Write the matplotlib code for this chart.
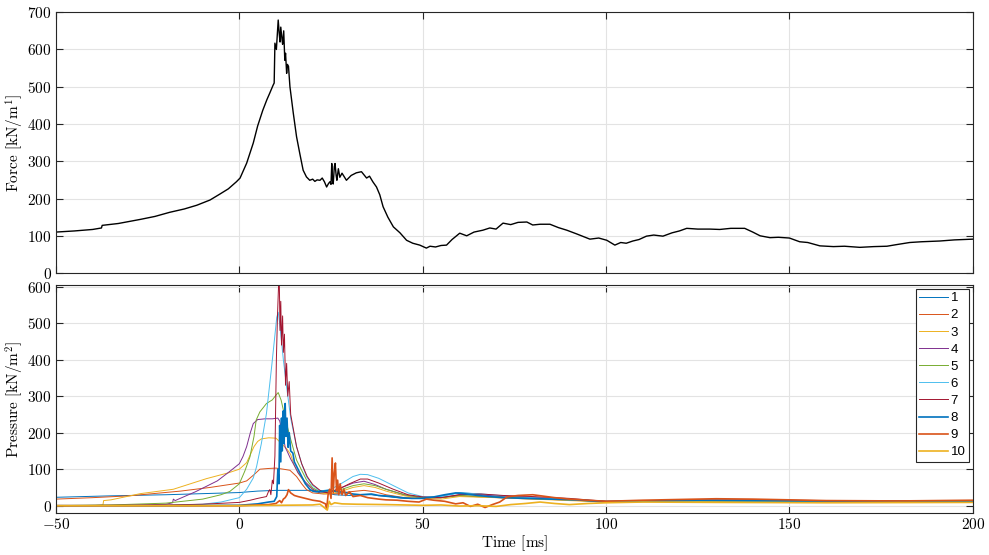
import matplotlib
matplotlib.use('Agg')
import matplotlib.pyplot as plt
import numpy as np

plt.rcParams['font.family'] = 'serif'
plt.rcParams['font.serif'] = ['cmr10']
plt.rcParams['mathtext.fontset'] = 'cm'
plt.rcParams['axes.unicode_minus'] = False
plt.rcParams['axes.formatter.use_mathtext'] = True

# total force on the structure, (time ms, kN/m)
force = np.array([
    (-50, 110), (-45, 113), (-40, 117), (-37.6, 121), (-37.4, 128), (-33, 133), (-27, 144),
    (-23, 152), (-19, 163), (-15, 172), (-11.6, 182), (-8, 196), (-5.3, 212), (-3, 226),
    (-0.8, 245), (0.2, 255), (2, 295), (3.8, 349), (5, 395), (6.4, 437), (7.5, 465),
    (8.3, 483), (9.2, 504), (9.5, 510), (9.7, 617), (10.1, 600), (10.6, 679), (10.9, 640),
    (11.1, 620), (11.3, 660), (11.6, 630), (11.8, 614), (12.1, 650), (12.4, 571), (12.6, 590),
    (12.9, 536), (13.1, 560), (13.4, 555), (13.8, 500), (14.7, 430), (15.6, 366), (16.5, 320),
    (17.4, 276), (18.3, 258), (19.2, 249), (20, 252), (20.6, 246), (21.2, 250), (22, 249),
    (22.6, 255), (23.2, 245), (23.8, 231), (24.3, 240), (24.7, 245), (25, 238), (25.2, 294),
    (25.4, 250), (25.6, 239), (25.9, 285), (26.1, 294), (26.4, 262), (26.6, 249), (27, 280),
    (27.4, 257), (28, 268), (29.2, 249), (30.5, 262), (31.9, 269), (33.3, 272), (34.7, 255),
    (35.5, 260), (36.4, 245), (37.4, 231), (38.3, 210), (39.2, 178), (40.5, 150), (42, 124),
    (43.8, 108), (45.6, 88), (47.3, 80), (49.2, 75), (51, 67), (52, 72), (53.5, 70), (55, 74),
    (56.5, 75), (58, 90), (60.1, 107), (62, 100), (64, 110), (66.4, 115), (68.3, 121),
    (70, 118), (71.9, 134), (74, 130), (76, 136), (78.4, 137), (80, 129), (82, 131),
    (84.7, 131), (87, 122), (89.3, 115), (92, 105), (95.6, 91), (98, 94), (100.2, 88),
    (102.4, 75), (104, 82), (105.5, 80), (107.3, 86), (109, 90), (111, 99), (113, 102),
    (115.5, 99), (118, 108), (120, 113), (122, 120), (125, 118), (128.3, 118), (131, 117),
    (134, 120), (137.8, 120), (140, 110), (142, 100), (144.7, 95), (147, 96), (150, 94),
    (152.8, 84), (155, 82), (158.3, 73), (162, 71), (165, 72), (169.2, 69), (173, 71),
    (176.6, 72), (179, 76), (182.8, 82), (186, 84), (191, 86), (195, 89), (200, 91),
])

# pressure sensors 1-10, (time ms, kN/m2)
p1 = np.array([
    (-50, 23), (-35, 27), (-20, 30), (-10, 33), (0, 36), (5, 40), (10, 42), (15, 42), (20, 42),
    (22, 40), (24, 35), (26, 30), (30, 28), (33, 30), (36, 30), (40, 25), (45, 20), (50, 20),
    (55, 26), (60, 36), (65, 32), (70, 26), (80, 22), (90, 16), (100, 12), (110, 13), (125, 15),
    (140, 14), (160, 12), (180, 12), (200, 12),
])
p2 = np.array([
    (-50, 18), (-40, 22), (-30, 27), (-16, 40), (-8, 50), (0, 62), (2, 68), (4, 85), (5.6, 100),
    (8, 102), (10, 103), (12, 100), (13.8, 97), (15.6, 80), (17, 60), (18.3, 44), (20, 35),
    (23, 32), (27, 33), (30, 38), (34, 42), (37, 38), (40, 30), (45, 22), (50, 20), (55, 22),
    (60, 27), (66, 24), (75, 20), (85, 17), (100, 11), (120, 14), (140, 15), (170, 12), (200, 13),
])
p3 = np.array([
    (-50, 0), (-40, 0), (-37.2, 2), (-37, 14), (-35, 16), (-27, 33), (-18, 45), (-9, 74),
    (-3, 90), (0, 100), (2, 118), (3, 140), (4, 162), (5, 176), (6, 183), (8, 186), (10, 185),
    (11, 175), (12, 165), (13, 155), (14, 140), (15, 110), (16.5, 82), (18, 62), (20, 45),
    (22, 34), (25, 33), (28, 40), (31, 50), (34, 55), (37, 50), (40, 40), (45, 27), (50, 20),
    (55, 18), (60, 25), (70, 22), (80, 18), (100, 10), (120, 12), (150, 12), (200, 10),
])
p4 = np.array([
    (-50, 0), (-30, 1), (-20, 4), (-18.2, 8), (-18, 18), (-17.5, 14), (-15, 25), (-12, 38),
    (-9, 53), (-6, 68), (-2.6, 94), (0, 115), (1, 135), (2, 162), (3, 200), (3.8, 225),
    (5, 236), (7, 238), (9, 238), (10.5, 240), (11, 232), (12, 190), (12.5, 160), (13, 150),
    (14, 128), (15, 110), (16, 90), (18, 65), (20, 45), (22, 35), (25, 38), (28, 50), (31, 62),
    (34, 67), (37, 58), (40, 45), (45, 30), (50, 22), (55, 22), (60, 30), (65, 30), (72, 25),
    (80, 22), (100, 12), (120, 14), (150, 14), (200, 12),
])
p5 = np.array([
    (-50, 0), (-35, 2), (-20, 7), (-10, 18), (-5, 30), (-2.6, 39), (0, 60), (1.5, 95),
    (2.9, 134), (4, 190), (4.6, 235), (5.6, 257), (7.4, 280), (9, 290), (10, 303), (10.6, 310),
    (11.4, 289), (12.5, 240), (13.8, 189), (15.6, 125), (18.3, 71), (20, 49), (22, 38), (25, 38),
    (28, 45), (31, 55), (34, 60), (37, 55), (40, 45), (45, 30), (50, 22), (55, 22), (60, 28),
    (70, 24), (80, 20), (100, 12), (130, 13), (200, 10),
])
p6 = np.array([
    (-50, 0), (-20, 1), (-10, 4), (-5, 10), (0, 22), (2, 45), (3.8, 76), (4.7, 107), (6, 170),
    (7.4, 253), (8.8, 380), (10.2, 516), (10.6, 530), (11, 500), (12, 400), (12.9, 325),
    (14, 240), (15.6, 162), (17, 115), (18.3, 80), (20, 55), (22, 40), (25, 45), (28, 62),
    (31, 80), (33, 86), (35, 85), (38, 75), (42, 55), (46, 35), (50, 25), (55, 25), (60, 35),
    (65, 33), (72, 27), (80, 22), (100, 12), (130, 14), (200, 10),
])
p7 = np.array([
    (-50, 0), (-20, 2), (-10, 4), (0, 9), (3, 15), (5, 20), (7.4, 25), (8, 40), (8.3, 44),
    (8.6, 30), (9, 70), (9.3, 60), (9.7, 136), (10.1, 400), (10.4, 520), (10.7, 605),
    (10.9, 612), (11.1, 480), (11.3, 560), (11.5, 440), (11.8, 520), (12, 420), (12.3, 470),
    (12.6, 330), (12.9, 390), (13.2, 300), (13.6, 340), (14, 250), (15.6, 162), (17, 115),
    (18.5, 80), (20, 58), (22, 42), (24, 35), (27, 45), (30, 60), (33, 73), (35, 73), (38, 62),
    (42, 45), (46, 30), (50, 24), (55, 22), (60, 30), (66, 32), (72, 28), (80, 25), (90, 20),
    (100, 12), (120, 15), (140, 16), (170, 13), (200, 12),
])
p8 = np.array([
    (-50, 0), (-20, 0), (0, 1), (5, 5), (8, 10), (9.5, 12), (10.2, 25), (10.5, 100), (10.8, 60),
    (11, 220), (11.3, 120), (11.5, 240), (11.7, 150), (12, 260), (12.2, 170), (12.5, 280),
    (12.7, 190), (13, 240), (13.3, 160), (13.6, 200), (14, 150), (14.6, 144), (15, 120),
    (16.5, 90), (18, 60), (19.2, 45), (20, 40), (21, 38), (23, 40), (25, 42), (27, 38), (29, 36),
    (31, 32), (33, 30), (36, 32), (38, 28), (41, 26), (44, 22), (47, 20), (50, 20), (53, 24),
    (56, 30), (59, 35), (62, 32), (65, 28), (68, 25), (72, 22), (78, 20), (85, 18), (92, 16),
    (100, 10), (110, 12), (125, 15), (150, 13), (175, 12), (200, 12),
])
p9 = np.array([
    (-50, 0), (-20, 0), (0, 0), (5, 2), (8, 3), (10, 6), (11, 14), (11.5, 8), (12, 18),
    (12.5, 22), (13, 30), (13.4, 44), (14, 35), (15, 28), (16, 25), (18, 20), (20, 15),
    (22, 12), (23.5, 5), (23.8, -10), (24.2, 30), (24.6, 45), (25, 20), (25.3, 131),
    (25.6, 35), (25.9, 90), (26.2, 117), (26.5, 40), (26.8, 70), (27.1, 30), (27.5, 60),
    (28, 30), (28.5, 45), (29, 28), (30, 38), (31, 25), (33, 28), (35, 22), (38, 18), (40, 16),
    (43, 15), (46, 12), (49, 10), (51, 18), (53, 15), (56, 12), (59, 5), (61, 8), (63, -2),
    (65, 4), (67, -5), (69, 3), (71, 10), (73, 24), (76, 28), (80, 30), (83, 26), (86, 22),
    (90, 18), (95, 15), (100, 12), (110, 15), (120, 17), (130, 19), (140, 18), (160, 14),
    (180, 13), (200, 15),
])
p10 = np.array([
    (-50, 0), (-20, 0), (0, 0), (10, 1), (20, 2), (22, 4), (23.5, -8), (24, -12), (24.5, 12),
    (25, 3), (26, 8), (28, 5), (32, 4), (40, 3), (50, 1), (55, 2), (60, -1), (65, 0), (70, -2),
    (74, 3), (78, 6), (82, 10), (86, 6), (90, 3), (95, 6), (100, 8), (110, 10), (130, 9),
    (160, 8), (200, 9),
])

sensors = [p1, p2, p3, p4, p5, p6, p7, p8, p9, p10]
labels = [str(i) for i in range(1, 11)]
colors = ['#0072BD', '#D95319', '#EDB120', '#7E2F8E', '#77AC30',
          '#4DBEEE', '#A2142F', '#0072BD', '#D95319', '#EDB120']
widths = [0.7] * 7 + [1.2] * 3

fig = plt.figure(figsize=(9.89, 5.55), dpi=100)
ax1 = fig.add_axes([0.0566, 0.508, 0.927, 0.470])
ax2 = fig.add_axes([0.0566, 0.0757, 0.927, 0.411])

ax1.plot(force[:, 0], force[:, 1], color='black', lw=1.0)
ax1.set_ylim(0, 700)
ax1.set_yticks(np.arange(0, 701, 100))
ax1.set_ylabel(r'Force $[\mathrm{kN/m^1}]$', fontsize=11, labelpad=1)
ax1.set_xticklabels([])

for s, lab, c, w in zip(sensors, labels, colors, widths):
    ax2.plot(s[:, 0], s[:, 1], color=c, lw=w, label=lab)
ax2.set_ylim(-20, 605)
ax2.set_yticks(np.arange(0, 601, 100))
ax2.set_ylabel(r'Pressure $[\mathrm{kN/m^2}]$', fontsize=11, labelpad=1)
ax2.set_xlabel(r'Time $[\mathrm{ms}]$', fontsize=11, labelpad=1)

leg = ax2.legend(loc='upper right', prop={'family': 'Liberation Sans', 'size': 9.5},
                 handlelength=2.2, handletextpad=0.2, labelspacing=0.37,
                 borderaxespad=0.3, borderpad=0.25, fancybox=False, framealpha=1)
leg.get_frame().set_edgecolor('#262626')
leg.get_frame().set_linewidth(0.8)

for ax in (ax1, ax2):
    ax.set_xlim(-50, 200)
    ax.set_xticks(np.arange(-50, 201, 50))
    ax.grid(True, color='#e3e3e3', lw=0.8)
    ax.set_axisbelow(True)
    ax.tick_params(direction='in', top=True, right=True, length=5, labelsize=11,
                   color='#262626', pad=3)
    for sp in ax.spines.values():
        sp.set_color('#262626')
        sp.set_linewidth(0.8)

fig.savefig('out.png', dpi=100)
